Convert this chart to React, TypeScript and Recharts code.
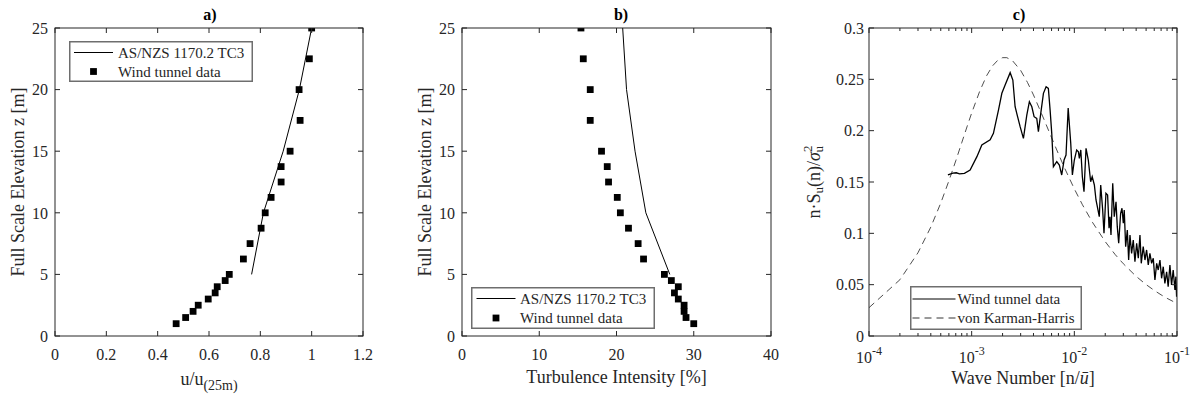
import React from 'react';
import { ComposedChart, Line, Scatter, XAxis, YAxis } from 'recharts';

// ---------- Panel a) mean velocity profile ----------
const zLevels = [1, 1.5, 2, 2.5, 3, 3.5, 4, 4.5, 5, 6.25, 7.5, 8.75, 10, 11.25, 12.5, 13.75, 15, 17.5, 20, 22.5, 25];
const uTunnel = [0.472, 0.509, 0.538, 0.558, 0.597, 0.624, 0.632, 0.663, 0.679, 0.734, 0.76, 0.803, 0.819, 0.842, 0.881, 0.881, 0.916, 0.955, 0.951, 0.991, 1.0];
const zCode = [5, 10, 15, 20, 25];
const uCode = [0.766, 0.812, 0.889, 0.952, 1.0];
const uTicks = [0, 0.2, 0.4, 0.6, 0.8, 1, 1.2];
const zTicks = [0, 5, 10, 15, 20, 25];

// ---------- Panel b) turbulence intensity ----------
const tiTunnel = [30.0, 29.0, 28.75, 28.75, 28.0, 27.5, 28.0, 27.1, 26.2, 23.5, 22.8, 21.55, 20.5, 20.1, 18.97, 18.8, 18.06, 16.6, 16.6, 15.7, 15.4];
const tiCode = [26.9, 23.8, 22.4, 21.3, 20.8];
const tiTicks = [0, 10, 20, 30, 40];

// ---------- Panel c) spectrum ----------
const waveNumber = [
  5.87e-4, 6.56e-4, 7.08e-4, 7.62e-4, 8.5e-4, 9.66e-4, 1.125e-3, 1.256e-3, 1.514e-3, 1.629e-3,
  1.824e-3, 1.968e-3, 2.118e-3, 2.371e-3, 2.518e-3, 2.649e-3, 2.965e-3, 3.192e-3, 3.443e-3, 3.648e-3,
  3.855e-3, 4.055e-3, 4.305e-3, 4.467e-3, 4.71e-3, 5.0e-3, 5.309e-3, 5.585e-3, 5.808e-3, 6.026e-3,
  6.252e-3, 6.745e-3, 7.145e-3, 7.534e-3, 7.943e-3, 8.299e-3, 8.71e-3, 9.226e-3, 9.572e-3, 1.0e-2,
  1.054e-2, 1.096e-2, 1.119e-2, 1.156e-2, 1.197e-2, 1.242e-2, 1.3e-2, 1.368e-2, 1.442e-2, 1.493e-2,
  1.567e-2, 1.626e-2, 1.675e-2, 1.75e-2, 1.807e-2, 1.888e-2, 1.945e-2, 2.032e-2, 2.109e-2, 2.178e-2,
  2.223e-2, 2.275e-2, 2.366e-2, 2.449e-2, 2.547e-2, 2.62e-2, 2.704e-2, 2.825e-2, 2.911e-2, 2.999e-2,
  3.063e-2, 3.162e-2, 3.281e-2, 3.381e-2, 3.483e-2, 3.614e-2, 3.75e-2, 3.893e-2, 4.046e-2, 4.198e-2,
  4.357e-2, 4.487e-2, 4.688e-2, 4.875e-2, 5.058e-2, 5.248e-2, 5.445e-2, 5.662e-2, 5.875e-2, 6.095e-2,
  6.339e-2, 6.561e-2, 6.823e-2, 7.079e-2, 7.345e-2, 7.621e-2, 7.925e-2, 8.204e-2, 8.531e-2, 8.851e-2,
  9.183e-2, 9.55e-2, 9.75e-2, 9.908e-2,
];
const spectrumTunnel = [
  0.157, 0.1586, 0.159, 0.158, 0.1585, 0.1617, 0.1747, 0.186, 0.191, 0.1974,
  0.22, 0.2364, 0.2445, 0.2565, 0.2493, 0.2233, 0.2039, 0.1925, 0.2152, 0.2282,
  0.2233, 0.2136, 0.212, 0.199, 0.2169, 0.2364, 0.2428, 0.2412, 0.2201, 0.1974,
  0.1649, 0.1698, 0.1665, 0.1568, 0.1714, 0.1763, 0.222, 0.1877, 0.1568, 0.1714,
  0.1812, 0.1795, 0.173, 0.1812, 0.1552, 0.1406, 0.1828, 0.1714, 0.1503, 0.1552,
  0.1471, 0.1325, 0.126, 0.1162, 0.1471, 0.1227, 0.1, 0.139, 0.1373, 0.1049,
  0.1162, 0.0984, 0.1487, 0.1162, 0.1308, 0.1065, 0.0903, 0.1195, 0.1244, 0.1098,
  0.1227, 0.087, 0.1032, 0.074, 0.0984, 0.0805, 0.0935, 0.0724, 0.0903, 0.0757,
  0.0984, 0.0708, 0.087, 0.074, 0.0838, 0.0692, 0.0805, 0.0708, 0.0757, 0.0545,
  0.0708, 0.0643, 0.074, 0.0562, 0.0675, 0.0513, 0.0626, 0.048, 0.0692, 0.0497,
  0.0643, 0.0448, 0.0578, 0.0383,
];
const vkNumber = [
  1e-4, 2e-4, 3e-4, 4e-4, 5e-4, 6e-4, 7e-4, 8e-4, 9e-4, 1e-3, 1.2e-3, 1.4e-3, 1.6e-3, 1.8e-3,
  2.0e-3, 2.2e-3, 2.5e-3, 3e-3, 3.5e-3, 4e-3, 5e-3, 6e-3, 7e-3, 8e-3, 1e-2, 1.2e-2, 1.5e-2,
  2e-2, 2.5e-2, 3e-2, 4e-2, 5e-2, 6e-2, 7e-2, 8e-2, 1e-1,
];
const vkSpectrum = [
  0.0276, 0.0548, 0.0811, 0.1061, 0.1295, 0.1511, 0.1706, 0.1882, 0.2037, 0.2172, 0.2386, 0.2536, 0.2632, 0.2687,
  0.2711, 0.2711, 0.2681, 0.2587, 0.2469, 0.2348, 0.2123, 0.1932, 0.1774, 0.164, 0.1433, 0.1278, 0.1108,
  0.0919, 0.0793, 0.0704, 0.0581, 0.0501, 0.0444, 0.0401, 0.0367, 0.0317,
];
const nMajorTicks = [1e-4, 1e-3, 1e-2, 1e-1];
const nMinorTicks = [
  2e-4, 3e-4, 4e-4, 5e-4, 6e-4, 7e-4, 8e-4, 9e-4,
  2e-3, 3e-3, 4e-3, 5e-3, 6e-3, 7e-3, 8e-3, 9e-3,
  2e-2, 3e-2, 4e-2, 5e-2, 6e-2, 7e-2, 8e-2, 9e-2,
];
const sTicks = [0, 0.05, 0.1, 0.15, 0.2, 0.25, 0.3];

const legendA = ['AS/NZS 1170.2 TC3', 'Wind tunnel data'];
const legendC = ['Wind tunnel data', 'von Karman-Harris'];

// ---------- build tables ----------
const zip = (xs: number[], ys: number[]) => xs.map((x, i) => ({ x, y: ys[i] }));
const ptsA = zip(uTunnel, zLevels);
const lineA = zip(uCode, zCode);
const ptsB = zip(tiTunnel, zLevels);
const lineB = zip(tiCode, zCode);
const tunnelC = zip(waveNumber, spectrumTunnel);
const vkC = zip(vkNumber, vkSpectrum);

const FONT = "'Liberation Serif', 'Times New Roman', Times, serif";
const TXT = '#262626';
const FRAME = '#262626';
const TICK_FS = 16;
const LABEL_FS = 18;
const PLOT_TOP = 28;
const CH = 399;
const BOTTOM_H = CH - 336;
const PLOT_H = CH - PLOT_TOP - BOTTOM_H;
const X_MARGIN = 12;

const fmtNum = (v: number) => String(Number(v.toFixed(2)));

const numTick = (p: any) => (
  <text x={p.x} y={p.y} dy="0.72em" textAnchor="middle" fontFamily={FONT} fontSize={TICK_FS} fill={TXT}>{fmtNum(p.payload.value)}</text>
);
const leftNumTick = (p: any) => (
  <text x={p.x} y={p.y} dy="0.36em" textAnchor="end" fontFamily={FONT} fontSize={TICK_FS} fill={TXT}>{fmtNum(p.payload.value)}</text>
);
const logTick = (p: any) => {
  const e = Math.round(Math.log10(p.payload.value));
  return (
    <text x={p.x} y={p.y} textAnchor="middle" fontFamily={FONT} fill={TXT}>
      <tspan dy={15} fontSize={TICK_FS}>10</tspan>
      <tspan dy={-8} fontSize={12}>{e}</tspan>
    </text>
  );
};

const SquareMark = (p: any) => (
  <rect x={p.cx - 3.4} y={p.cy - 3.4} width={6.8} height={6.8} fill="#000" />
);

// ---------- box frame with inward ticks (axis decoration) ----------
type FrameProps = {
  left: number; top: number; w: number; h: number;
  xDomain: number[]; xTicks: number[]; xMinor?: number[]; log?: boolean;
  yDomain: number[]; yTicks: number[];
};
const FrameBox = ({ left, top, w, h, xDomain, xTicks, xMinor = [], log = false, yDomain, yTicks }: FrameProps) => {
  const tx = (v: number) => log
    ? left + ((Math.log10(v) - Math.log10(xDomain[0])) / (Math.log10(xDomain[1]) - Math.log10(xDomain[0]))) * w
    : left + ((v - xDomain[0]) / (xDomain[1] - xDomain[0])) * w;
  const ty = (v: number) => top + h - ((v - yDomain[0]) / (yDomain[1] - yDomain[0])) * h;
  const bottom = top + h;
  const right = left + w;
  return (
    <g stroke={FRAME} strokeWidth={1} fill="none">
      <rect x={left} y={top} width={w} height={h} />
      {xTicks.map((v, i) => (
        <g key={`x${i}`}>
          <line x1={tx(v)} x2={tx(v)} y1={bottom} y2={bottom - 5} />
          <line x1={tx(v)} x2={tx(v)} y1={top} y2={top + 5} />
        </g>
      ))}
      {xMinor.map((v, i) => (
        <g key={`m${i}`}>
          <line x1={tx(v)} x2={tx(v)} y1={bottom} y2={bottom - 3} />
          <line x1={tx(v)} x2={tx(v)} y1={top} y2={top + 3} />
        </g>
      ))}
      {yTicks.map((v, i) => (
        <g key={`y${i}`}>
          <line x1={left} x2={left + 5} y1={ty(v)} y2={ty(v)} />
          <line x1={right} x2={right - 5} y1={ty(v)} y2={ty(v)} />
        </g>
      ))}
    </g>
  );
};

type Item = { kind: 'line' | 'square' | 'dash'; label: string };
const LegendBox = ({ left, top, w, h, items, lineX0, lineX1, textX, rowY }: { left: number; top: number; w: number; h: number; items: Item[]; lineX0: number; lineX1: number; textX: number; rowY: number[] }) => (
  <svg width={w} height={h} style={{ position: 'absolute', left, top, display: 'block' }}>
    <rect x={0.75} y={0.75} width={w - 1.5} height={h - 1.5} fill="#fff" stroke="#6e6e6e" strokeWidth={1.5} />
    {items.map((it, i) => (
      <g key={i}>
        {it.kind === 'line' && <line x1={lineX0} x2={lineX1} y1={rowY[i]} y2={rowY[i]} stroke="#000" strokeWidth={1} />}
        {it.kind === 'dash' && <line x1={lineX0} x2={lineX1} y1={rowY[i]} y2={rowY[i]} stroke="#000" strokeWidth={0.8} strokeDasharray="7 5" />}
        {it.kind === 'square' && <rect x={(lineX0 + lineX1) / 2 - 3.4} y={rowY[i] - 3.4} width={6.8} height={6.8} fill="#000" />}
        <text x={textX} y={rowY[i]} dominantBaseline="central" fontFamily={FONT} fontSize={15} fill={TXT}>{it.label}</text>
      </g>
    ))}
  </svg>
);

const Title = ({ x, text }: { x: number; text: string }) => (
  <div style={{ position: 'absolute', left: x - 20, top: 5, width: 40, textAlign: 'center', fontFamily: FONT, fontWeight: 'bold', fontSize: 16, color: '#000', lineHeight: '20px' }}>{text}</div>
);

const yLabel = (cx: number, content: React.ReactNode) => (props: any) => {
  const vb = props.viewBox || {};
  const cy = (vb.y ?? PLOT_TOP) + (vb.height ?? PLOT_H) / 2;
  return (
    <text x={cx} y={cy} transform={`rotate(-90 ${cx} ${cy})`} textAnchor="middle" dominantBaseline="central" fontFamily={FONT} fontSize={LABEL_FS} fill={TXT}>
      {content}
    </text>
  );
};
const xLabel = (baseline: number, content: React.ReactNode) => (props: any) => {
  const vb = props.viewBox;
  return (
    <text x={vb.x + vb.width / 2} y={baseline} textAnchor="middle" fontFamily={FONT} fontSize={LABEL_FS} fill={TXT}>
      {content}
    </text>
  );
};

function PanelA() {
  return (
    <ComposedChart width={400} height={CH} margin={{ top: PLOT_TOP, right: 37, bottom: 0, left: 0 }}>
      <XAxis xAxisId="b" type="number" dataKey="x" domain={[0, 1.2]} ticks={uTicks} interval={0} allowDataOverflow height={BOTTOM_H}
        tickSize={0} tickMargin={X_MARGIN} tickLine={false} axisLine={false} tick={numTick}
        label={{ content: xLabel(385, <><tspan>u/u</tspan><tspan dy={5} fontSize={14}>(25m)</tspan></>) }} />
      <YAxis yAxisId="l" type="number" dataKey="y" domain={[0, 25]} ticks={zTicks} interval={0} allowDataOverflow width={55}
        tickSize={0} tickMargin={7} tickLine={false} axisLine={false} tick={leftNumTick}
        label={{ content: yLabel(18, 'Full Scale Elevation z [m]') }} />
      <Line xAxisId="b" yAxisId="l" data={lineA} dataKey="y" type="linear" stroke="#000" strokeWidth={1} dot={false} isAnimationActive={false} />
      <Scatter xAxisId="b" yAxisId="l" data={ptsA} dataKey="y" shape={SquareMark} isAnimationActive={false} />
    </ComposedChart>
  );
}

function PanelB() {
  return (
    <ComposedChart width={400} height={CH} margin={{ top: PLOT_TOP, right: 29, bottom: 0, left: 0 }}>
      <XAxis xAxisId="b" type="number" dataKey="x" domain={[0, 40]} ticks={tiTicks} interval={0} allowDataOverflow height={BOTTOM_H}
        tickSize={0} tickMargin={X_MARGIN} tickLine={false} axisLine={false} tick={numTick}
        label={{ content: xLabel(383, 'Turbulence Intensity [%]') }} />
      <YAxis yAxisId="l" type="number" dataKey="y" domain={[0, 25]} ticks={zTicks} interval={0} allowDataOverflow width={62}
        tickSize={0} tickMargin={7} tickLine={false} axisLine={false} tick={leftNumTick}
        label={{ content: yLabel(25, 'Full Scale Elevation z [m]') }} />
      <Line xAxisId="b" yAxisId="l" data={lineB} dataKey="y" type="linear" stroke="#000" strokeWidth={1} dot={false} isAnimationActive={false} />
      <Scatter xAxisId="b" yAxisId="l" data={ptsB} dataKey="y" shape={SquareMark} isAnimationActive={false} />
    </ComposedChart>
  );
}

function PanelC() {
  return (
    <ComposedChart width={400} height={CH} margin={{ top: PLOT_TOP, right: 19, bottom: 0, left: 0 }}>
      <XAxis xAxisId="b" type="number" scale="log" dataKey="x" domain={[1e-4, 0.1]} ticks={nMajorTicks} interval={0} allowDataOverflow height={BOTTOM_H}
        tickSize={0} tickMargin={X_MARGIN} tickLine={false} axisLine={false} tick={logTick}
        label={{ content: xLabel(384, <><tspan>Wave Number [n/</tspan><tspan fontStyle="italic">ū</tspan><tspan>]</tspan></>) }} />
      <YAxis yAxisId="l" type="number" dataKey="y" domain={[0, 0.3]} ticks={sTicks} interval={0} allowDataOverflow width={73}
        tickSize={0} tickMargin={5} tickLine={false} axisLine={false} tick={leftNumTick}
        label={{ content: yLabel(18, <><tspan>n·S</tspan><tspan dy={4} fontSize={13}>u</tspan><tspan dy={-4}>(n)/</tspan><tspan fontStyle="italic">σ</tspan><tspan dy={-7} fontSize={13}>2</tspan><tspan dx={-7} dy={11} fontSize={13}>u</tspan></>) }} />
      <Line xAxisId="b" yAxisId="l" data={vkC} dataKey="y" type="linear" stroke="#222" strokeWidth={0.8} strokeDasharray="7 5" dot={false} isAnimationActive={false} />
      <Line xAxisId="b" yAxisId="l" data={tunnelC} dataKey="y" type="linear" stroke="#000" strokeWidth={1.3} dot={false} isAnimationActive={false} />
    </ComposedChart>
  );
}

export default function App() {
  return (
    <div style={{ position: 'absolute', left: 0, top: 0, width: 1196, height: 399, background: '#fff', fontFamily: FONT }}>
      <div style={{ position: 'absolute', left: 0, top: 0 }}><PanelA /></div>
      <div style={{ position: 'absolute', left: 400, top: 0 }}><PanelB /></div>
      <div style={{ position: 'absolute', left: 796, top: 0 }}><PanelC /></div>
      <svg width={1196} height={399} style={{ position: 'absolute', left: 0, top: 0, pointerEvents: 'none' }}>
        <FrameBox left={55} top={PLOT_TOP} w={308} h={PLOT_H} xDomain={[0, 1.2]} xTicks={uTicks} yDomain={[0, 25]} yTicks={zTicks} />
        <FrameBox left={462} top={PLOT_TOP} w={309} h={PLOT_H} xDomain={[0, 40]} xTicks={tiTicks} yDomain={[0, 25]} yTicks={zTicks} />
        <FrameBox left={869} top={PLOT_TOP} w={308} h={PLOT_H} xDomain={[1e-4, 0.1]} xTicks={nMajorTicks} xMinor={nMinorTicks} log yDomain={[0, 0.3]} yTicks={sTicks} />
      </svg>
      <LegendBox left={69} top={40.5} w={184} h={41} items={[{ kind: 'line', label: legendA[0] }, { kind: 'square', label: legendA[1] }]} lineX0={5} lineX1={44} textX={49} rowY={[11.5, 30.5]} />
      <LegendBox left={470.5} top={287} w={184} h={42} items={[{ kind: 'line', label: legendA[0] }, { kind: 'square', label: legendA[1] }]} lineX0={5.5} lineX1={44.5} textX={49} rowY={[11.5, 31]} />
      <LegendBox left={910} top={286} w={172} h={44} items={[{ kind: 'line', label: legendC[0] }, { kind: 'dash', label: legendC[1] }]} lineX0={2.5} lineX1={45.5} textX={47.5} rowY={[13, 32]} />
      <Title x={210} text="a)" />
      <Title x={621} text="b)" />
      <Title x={1019} text="c)" />
    </div>
  );
}
